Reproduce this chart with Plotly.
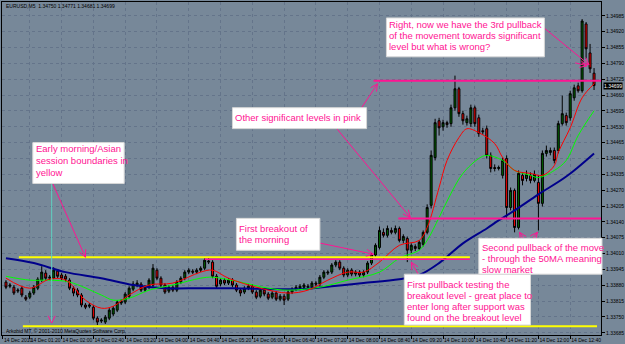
import math
import plotly.graph_objects as go

# ---------------- data (EURUSD M5) ----------------
open_ = [1.33893,1.33876,1.33872,1.33856,1.33868,1.33831,1.33831,1.33848,1.33868,1.33901,
         1.33930,1.33909,1.33909,1.33938,1.33922,1.33917,1.33901,1.33868,1.33860,1.33840,
         1.33799,1.33794,1.33790,1.33745,1.33733,1.33729,1.33745,1.33762,1.33778,1.33807,
         1.33811,1.33835,1.33864,1.33881,1.33885,1.33860,1.33872,1.33881,1.33942,1.33909,
         1.33881,1.33856,1.33872,1.33860,1.33893,1.33909,1.33934,1.33938,1.33934,1.33942,
         1.33950,1.33975,1.33975,1.33917,1.33885,1.33901,1.33889,1.33901,1.33881,1.33860,
         1.33852,1.33868,1.33876,1.33852,1.33835,1.33860,1.33844,1.33831,1.33848,1.33823,
         1.33835,1.33823,1.33852,1.33864,1.33868,1.33872,1.33876,1.33872,1.33889,1.33885,
         1.33913,1.33930,1.33934,1.33963,1.33975,1.33950,1.33922,1.33942,1.33926,1.33934,
         1.33922,1.33934,1.33971,1.34004,1.34035,1.34097,1.34085,1.34105,1.34097,1.34113,
         1.34064,1.34072,1.34024,1.34039,1.34031,1.34048,1.34097,1.34208,1.34404,1.34555,
         1.34530,1.34547,1.34543,1.34608,1.34686,1.34584,1.34547,1.34543,1.34608,1.34567,
         1.34514,1.34522,1.34413,1.34363,1.34359,1.34331,1.34400,1.34199,1.34269,1.34117,
         1.34331,1.34318,1.34331,1.34310,1.34302,1.34216,1.34421,1.34425,1.34433,1.34433,
         1.34543,1.34576,1.34567,1.34649,1.34698,1.34678,1.34952,1.34833,1.34750]
high = [1.33901,1.33889,1.33881,1.33868,1.33876,1.33840,1.33856,1.33881,1.33913,1.33958,
        1.33942,1.33922,1.33954,1.33946,1.33930,1.33926,1.33909,1.33876,1.33868,1.33848,
        1.33807,1.33807,1.33799,1.33753,1.33745,1.33758,1.33786,1.33794,1.33819,1.33823,
        1.33852,1.33876,1.33897,1.33901,1.33893,1.33881,1.33909,1.33967,1.33950,1.33917,
        1.33889,1.33881,1.33881,1.33901,1.33917,1.33942,1.33950,1.33946,1.33950,1.33958,
        1.33991,1.33995,1.33983,1.33926,1.33909,1.33909,1.33909,1.33909,1.33889,1.33868,
        1.33876,1.33885,1.33885,1.33860,1.33868,1.33868,1.33852,1.33856,1.33856,1.33844,
        1.33844,1.33860,1.33872,1.33881,1.33885,1.33889,1.33885,1.33897,1.33897,1.33922,
        1.33942,1.33942,1.33971,1.33983,1.33983,1.33958,1.33950,1.33950,1.33942,1.33942,
        1.33942,1.33979,1.34012,1.34052,1.34121,1.34113,1.34125,1.34117,1.34125,1.34121,
        1.34089,1.34080,1.34052,1.34048,1.34064,1.34105,1.34212,1.34433,1.34563,1.34567,
        1.34559,1.34555,1.34621,1.34740,1.34694,1.34596,1.34576,1.34621,1.34617,1.34580,
        1.34526,1.34535,1.34425,1.34376,1.34371,1.34404,1.34413,1.34281,1.34277,1.34351,
        1.34343,1.34351,1.34343,1.34351,1.34331,1.34433,1.34453,1.34445,1.34445,1.34555,
        1.34658,1.34588,1.34678,1.34703,1.34711,1.34972,1.34960,1.34870,1.34771]
low = [1.33864,1.33868,1.33840,1.33848,1.33831,1.33815,1.33823,1.33840,1.33860,1.33893,
       1.33901,1.33901,1.33905,1.33909,1.33901,1.33893,1.33860,1.33835,1.33831,1.33790,
       1.33782,1.33786,1.33737,1.33717,1.33725,1.33721,1.33737,1.33753,1.33770,1.33799,
       1.33803,1.33827,1.33856,1.33872,1.33852,1.33852,1.33864,1.33872,1.33901,1.33872,
       1.33844,1.33848,1.33852,1.33852,1.33885,1.33901,1.33926,1.33926,1.33926,1.33934,
       1.33942,1.33967,1.33909,1.33868,1.33876,1.33881,1.33881,1.33872,1.33852,1.33835,
       1.33844,1.33860,1.33844,1.33823,1.33827,1.33835,1.33819,1.33823,1.33815,1.33815,
       1.33799,1.33815,1.33844,1.33856,1.33860,1.33864,1.33864,1.33864,1.33876,1.33876,
       1.33905,1.33922,1.33926,1.33954,1.33942,1.33913,1.33913,1.33917,1.33917,1.33913,
       1.33913,1.33926,1.33963,1.33995,1.34027,1.34076,1.34076,1.34089,1.34089,1.34056,
       1.34052,1.33975,1.34012,1.34020,1.34024,1.34039,1.34089,1.34195,1.34392,1.34494,
       1.34514,1.34526,1.34530,1.34596,1.34571,1.34539,1.34535,1.34530,1.34530,1.34489,
       1.34498,1.34400,1.34343,1.34347,1.34351,1.34318,1.34154,1.34187,1.34097,1.34109,
       1.34290,1.34306,1.34298,1.34302,1.34105,1.34203,1.34408,1.34413,1.34380,1.34421,
       1.34535,1.34535,1.34555,1.34637,1.34670,1.34670,1.34809,1.34751,1.34681]
close = [1.33872,1.33881,1.33848,1.33860,1.33840,1.33823,1.33848,1.33872,1.33905,1.33934,
         1.33909,1.33913,1.33942,1.33917,1.33909,1.33905,1.33868,1.33848,1.33840,1.33799,
         1.33790,1.33799,1.33745,1.33729,1.33737,1.33749,1.33778,1.33786,1.33811,1.33815,
         1.33844,1.33868,1.33885,1.33889,1.33860,1.33872,1.33901,1.33950,1.33909,1.33881,
         1.33852,1.33872,1.33860,1.33893,1.33909,1.33934,1.33942,1.33934,1.33942,1.33950,
         1.33983,1.33979,1.33917,1.33876,1.33901,1.33889,1.33901,1.33881,1.33860,1.33848,
         1.33868,1.33876,1.33852,1.33831,1.33860,1.33844,1.33827,1.33848,1.33823,1.33835,
         1.33819,1.33852,1.33864,1.33872,1.33876,1.33881,1.33872,1.33889,1.33885,1.33913,
         1.33934,1.33934,1.33963,1.33975,1.33950,1.33922,1.33942,1.33926,1.33934,1.33922,
         1.33934,1.33971,1.34004,1.34044,1.34105,1.34085,1.34113,1.34097,1.34113,1.34064,
         1.34080,1.34024,1.34044,1.34031,1.34056,1.34097,1.34199,1.34413,1.34547,1.34526,
         1.34547,1.34539,1.34608,1.34686,1.34584,1.34555,1.34563,1.34608,1.34543,1.34502,
         1.34510,1.34413,1.34359,1.34359,1.34363,1.34392,1.34199,1.34269,1.34117,1.34339,
         1.34310,1.34335,1.34310,1.34335,1.34216,1.34421,1.34433,1.34433,1.34392,1.34543,
         1.34584,1.34547,1.34666,1.34690,1.34678,1.34964,1.34850,1.34768,1.34699]
bars = list(range(len(close)))

# moving averages (read at a few points along each line)
fast_idx = [0,6,11,15,20,24,27,31,36,42,49,52,56,64,71,76,81,86,90,94,99,104,106,109,111,114,116,119,123,125,128,132,135,138,139,142,145,148]
fast_val = [1.33909,1.33868,1.33905,1.33901,1.33819,1.33786,1.33794,1.33840,1.33881,1.33889,
            1.33934,1.33942,1.33909,1.33868,1.33848,1.33860,1.33901,1.33934,1.33934,1.33975,
            1.34044,1.34064,1.34117,1.34281,1.34392,1.34486,1.34522,1.34506,1.34461,1.34404,
            1.34351,1.34339,1.34331,1.34371,1.34425,1.34526,1.34649,1.34706]
mid_idx = [0,6,11,16,24,27,31,36,42,49,52,59,66,71,79,86,94,99,104,106,109,112,115,119,121,125,128,132,134,138,141,144,148]
mid_val = [1.33917,1.33901,1.33901,1.33893,1.33840,1.33819,1.33827,1.33860,1.33881,1.33909,
           1.33913,1.33893,1.33868,1.33860,1.33872,1.33901,1.33934,1.33991,1.34024,1.34064,
           1.34158,1.34257,1.34339,1.34400,1.34413,1.34392,1.34351,1.34331,1.34322,1.34351,
           1.34392,1.34494,1.34596]
slow_idx = [0,7,15,24,32,40,49,57,74,82,90,99,104,109,115,121,124,128,134,141,148]
slow_val = [1.33991,1.33971,1.33934,1.33909,1.33881,1.33868,1.33868,1.33868,1.33864,1.33876,
            1.33889,1.33905,1.33922,1.33971,1.34052,1.34113,1.34146,1.34187,1.34253,1.34326,
            1.34421]

# horizontal levels: (price, first bar, last bar)
asian_high = (1.33995, 3.25, 116.75)
asian_low = (1.33712, 4.25, 148.75)
breakout_level = (1.33987, 50.0, 116.75)
sig_high = (1.34719, 92.5, 149.75)
sig_low = (1.34154, 98.75, 149.75)

time_pos = [-0.75, 6, 14, 22, 30, 38, 46, 54, 62, 70, 78, 86, 94, 102, 110, 118, 126, 134, 142]
time_text = ["14 Dec 2010", "14 Dec 01:20", "14 Dec 02:00", "14 Dec 02:40", "14 Dec 03:20",
             "14 Dec 04:00", "14 Dec 04:40", "14 Dec 05:20", "14 Dec 06:00", "14 Dec 06:40",
             "14 Dec 07:20", "14 Dec 08:00", "14 Dec 08:40", "14 Dec 09:20", "14 Dec 10:00",
             "14 Dec 10:40", "14 Dec 11:20", "14 Dec 12:00", "14 Dec 12:40"]
price_ticks = [1.33685, 1.33750, 1.33815, 1.33880, 1.33945, 1.34010, 1.34075, 1.34140,
               1.34205, 1.34270, 1.34335, 1.34400, 1.34465, 1.34530, 1.34595, 1.34660,
               1.34725, 1.34790, 1.34855, 1.34920, 1.34985]
price_text = ["%.5f" % p for p in price_ticks]

header_text = "EURUSD,M5  1.34750 1.34771 1.34681 1.34699"
copyright_text = "Arkobid MT, © 2001-2010 MetaQuotes Software Corp."
last_price = 1.34699

notes = [
    # (box left, top, right, bottom, [(line, centre y)...])
    (32, 142, 124, 183, [("Early morning/Asian", 148), ("session boundaries in", 160), ("yellow", 172)]),
    (233, 107, 368, 128, [("Other significant levels in pink", 117)]),
    (388, 17, 547, 56, [("Right, now we have the 3rd pullback", 24), ("of the movement towards significant", 35),
                        ("level but what is wrong?", 46)]),
    (237, 218, 321, 250, [("First breakout of", 228), ("the morning", 239)]),
    (406, 274, 533, 325, [("First pullback testing the", 284), ("breakout level - great place to", 295),
                          ("enter long after support was", 306), ("found on the breakout level", 317)]),
    (481, 238, 605, 274, [("Second pullback of the move", 247), ("- through the 50MA meaning", 258),
                          ("slow market", 269)]),
]
arrows = [
    (52, 183, 85, 257),
    (363, 107, 379, 83),
    (338, 128, 412, 217),
    (543, 24, 592, 64),
    (578, 62, 590, 65),
    (298, 238, 375, 254),
    (420, 274, 413, 262),
    (530, 245, 522, 232),
    (530, 245, 540, 232),
]
vline = (51, 183, 51, 323)
arrow_bottom = (51, 323)

# ---------------- figure ----------------
W, H = 625, 344
ML, MR, MT, MB = 1, 21, 1, 9
PW, PH = W - ML - MR, H - MT - MB
BG = "#778899"
PINK = "#ff1493"


def fx(x):
    return (x - ML) / PW


def fy(y):
    return 1 - (y - MT) / PH


fig = go.Figure()
fig.add_trace(go.Candlestick(
    x=bars, open=open_, high=high, low=low, close=close,
    increasing=dict(line=dict(color="#000000", width=1), fillcolor="#006400"),
    decreasing=dict(line=dict(color="#000000", width=1), fillcolor="#ff0000"),
    whiskerwidth=0, hoverinfo="skip"))
fig.add_trace(go.Scatter(x=slow_idx, y=slow_val, mode="lines",
                         line=dict(color="#00008b", width=2, shape="spline"), hoverinfo="skip"))
fig.add_trace(go.Scatter(x=mid_idx, y=mid_val, mode="lines",
                         line=dict(color="#00ff00", width=1, shape="spline"), hoverinfo="skip"))
fig.add_trace(go.Scatter(x=fast_idx, y=fast_val, mode="lines",
                         line=dict(color="#ff0000", width=1, shape="spline"), hoverinfo="skip"))

shapes = []
for (lvl, x0, x1), col, wd in [(asian_high, "#ffff00", 2), (breakout_level, PINK, 1.5),
                               (asian_low, "#ffff00", 2), (sig_high, PINK, 2), (sig_low, PINK, 2)]:
    shapes.append(dict(type="line", xref="x", yref="y", x0=x0, x1=x1, y0=lvl, y1=lvl,
                       line=dict(color=col, width=wd), layer="above"))

# vertical marker line
shapes.append(dict(type="line", xref="paper", yref="paper", x0=fx(vline[0]), x1=fx(vline[2]),
                   y0=fy(vline[1]), y1=fy(vline[3]), line=dict(color="#5fd0c0", width=1)))


def add_arrow(x0, y0, x1, y1, head=True):
    shapes.append(dict(type="line", xref="paper", yref="paper", x0=fx(x0), y0=fy(y0),
                       x1=fx(x1), y1=fy(y1), line=dict(color=PINK, width=1)))
    if head:
        dx, dy = x0 - x1, y0 - y1
        d = math.hypot(dx, dy)
        ux, uy = dx / d, dy / d
        for a in (0.45, -0.45):
            rx = ux * math.cos(a) - uy * math.sin(a)
            ry = ux * math.sin(a) + uy * math.cos(a)
            shapes.append(dict(type="line", xref="paper", yref="paper", x0=fx(x1), y0=fy(y1),
                               x1=fx(x1 + 8 * rx), y1=fy(y1 + 8 * ry), line=dict(color=PINK, width=1)))


for a in arrows:
    add_arrow(*a)
# arrowhead at the bottom of the vertical marker
add_arrow(arrow_bottom[0], arrow_bottom[1] - 1, arrow_bottom[0], arrow_bottom[1])

annotations = []
for (l, t, r, b, lines) in notes:
    shapes.append(dict(type="rect", xref="paper", yref="paper", x0=fx(l), x1=fx(r), y0=fy(b), y1=fy(t),
                       fillcolor="white", line=dict(color="#d8d8d8", width=1), layer="above"))
    for txt, yc in lines:
        annotations.append(dict(xref="paper", yref="paper", x=fx(l + 1), y=fy(yc), xanchor="left",
                                yanchor="middle", text=txt, showarrow=False,
                                font=dict(family="Liberation Sans, Arial", size=9.5, color=PINK)))

annotations.append(dict(xref="paper", yref="paper", x=fx(3), y=fy(5), xanchor="left", yanchor="middle",
                        text=header_text, showarrow=False,
                        font=dict(family="Liberation Sans, Arial", size=5, color="black")))
annotations.append(dict(xref="paper", yref="paper", x=fx(3), y=fy(331), xanchor="left", yanchor="middle",
                        text=copyright_text, showarrow=False,
                        font=dict(family="Liberation Sans, Arial", size=5, color="black")))
annotations.append(dict(xref="paper", yref="y", x=1.0, y=last_price, xanchor="left", yanchor="middle",
                        xshift=2, text="%.5f" % last_price, showarrow=False, bgcolor="black", borderpad=0,
                        font=dict(family="Liberation Sans, Arial", size=5, color="white")))

fig.update_layout(
    width=W, height=H, margin=dict(l=ML, r=MR, t=MT, b=MB),
    paper_bgcolor=BG, plot_bgcolor=BG, showlegend=False,
    shapes=shapes, annotations=annotations,
    xaxis=dict(range=[-1, 149.75], tickvals=time_pos, ticktext=time_text, tickangle=0,
               ticks="outside", ticklen=3, tickcolor="black", ticklabelposition="outside right",
               tickfont=dict(family="Liberation Sans, Arial", size=5, color="black"),
               showgrid=True, gridcolor="#64748a", griddash="dot", gridwidth=1,
               showline=True, linecolor="black", linewidth=1, mirror=True, zeroline=False,
               rangeslider=dict(visible=False)),
    yaxis=dict(range=[1.33676, 1.35042], side="right", tickvals=price_ticks, ticktext=price_text,
               ticks="outside", ticklen=3, tickcolor="black",
               tickfont=dict(family="Liberation Sans, Arial", size=5, color="black"),
               showgrid=True, gridcolor="#64748a", griddash="dot", gridwidth=1,
               showline=True, linecolor="black", linewidth=1, mirror=True, zeroline=False),
)

fig.write_html("out.html")
